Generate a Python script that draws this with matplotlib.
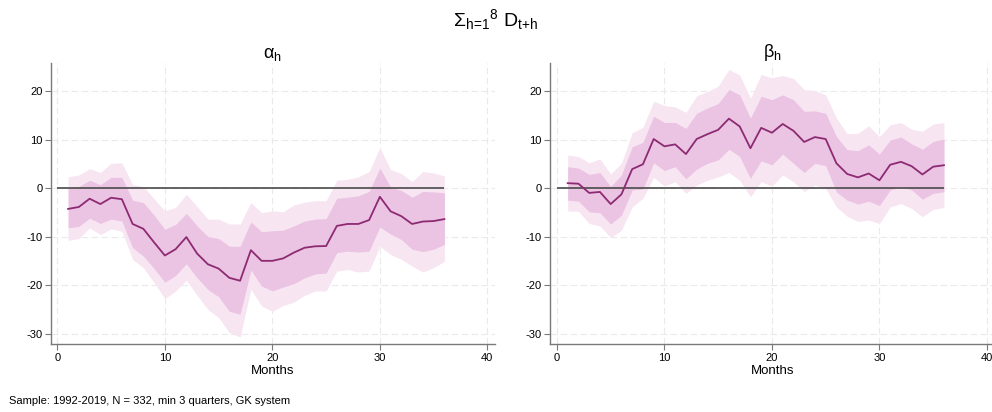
import matplotlib
matplotlib.use("Agg")
import matplotlib.pyplot as plt

plt.rcParams['font.family'] = ['Liberation Sans', 'DejaVu Sans']
plt.rcParams['mathtext.fontset'] = 'custom'
plt.rcParams['mathtext.rm'] = 'Liberation Sans'
plt.rcParams['mathtext.it'] = 'Liberation Sans'
plt.rcParams['axes.unicode_minus'] = False

# horizons (months)
months = list(range(1, 37))

# alpha_h : point estimate, inner band, outer band
alpha = [-4.3, -3.9, -2.2, -3.3, -2.0, -2.3, -7.4, -8.4, -11.2, -13.9, -12.6, -10.1,
         -13.5, -15.7, -16.6, -18.5, -19.1, -12.8, -15.0, -15.0, -14.5, -13.3, -12.3, -12.0,
         -11.95, -7.8, -7.4, -7.4, -6.6, -1.8, -4.8, -5.8, -7.4, -6.9, -6.8, -6.4]
alpha_lo68 = [-8.2, -7.9, -6.2, -7.3, -6.4, -6.8, -12.3, -14.0, -16.6, -19.4, -18.0, -15.6,
              -18.5, -20.9, -22.4, -25.4, -26.0, -16.9, -20.2, -21.2, -20.4, -19.7, -18.5, -17.7,
              -17.5, -13.3, -13.0, -13.2, -13.0, -8.0, -9.5, -10.6, -12.6, -13.1, -12.6, -11.6]
alpha_hi68 = [-0.1, 0.3, 1.6, 0.7, 2.2, 2.2, -2.5, -3.0, -5.6, -8.5, -7.5, -5.2,
              -7.8, -10.0, -10.4, -12.0, -12.0, -7.0, -9.0, -8.8, -8.7, -7.8, -6.8, -6.4,
              -6.3, -2.1, -1.9, -1.6, -0.7, 4.1, 0.2, -0.5, -1.9, -0.7, -0.8, -1.0]
alpha_lo95 = [-10.8, -10.4, -8.2, -9.6, -8.4, -8.9, -14.7, -16.4, -19.5, -22.8, -21.2, -19.0,
              -22.1, -25.0, -26.7, -29.8, -30.7, -20.9, -24.3, -25.4, -24.2, -23.5, -22.1, -21.2,
              -21.2, -17.1, -16.8, -17.3, -17.1, -12.0, -13.7, -14.7, -16.1, -17.3, -16.4, -15.1]
alpha_hi95 = [2.3, 2.7, 4.0, 3.2, 5.1, 5.2, 0.7, 0.3, -2.2, -4.7, -4.0, -1.3,
              -3.8, -6.4, -6.4, -7.4, -7.4, -3.0, -5.1, -4.7, -4.9, -3.5, -2.9, -2.6,
              -2.6, 1.6, 1.8, 2.3, 3.4, 8.3, 3.8, 3.0, 1.3, 3.4, 3.1, 2.5]

# beta_h
beta = [1.0, 0.9, -1.0, -0.8, -3.3, -1.3, 3.9, 4.9, 10.1, 8.6, 9.0, 7.0,
        10.1, 11.1, 12.0, 14.3, 12.7, 8.2, 12.4, 11.4, 13.2, 11.8, 9.5, 10.5,
        10.1, 5.1, 2.9, 2.2, 3.0, 1.6, 4.8, 5.4, 4.5, 2.8, 4.4, 4.7]
beta_lo68 = [-2.5, -2.7, -4.9, -5.1, -7.4, -5.6, -0.4, -0.2, 5.2, 3.6, 4.4, 1.9,
             3.9, 5.1, 5.8, 8.0, 6.5, 2.0, 5.6, 4.8, 7.0, 5.1, 3.2, 5.1,
             4.6, -0.8, -2.5, -3.3, -2.7, -3.6, -0.4, 0.3, -0.4, -2.3, -1.1, -0.75]
beta_hi68 = [4.4, 4.1, 2.8, 3.2, 0.3, 2.7, 8.5, 9.4, 14.8, 13.5, 13.5, 12.3,
             15.4, 16.5, 17.4, 20.3, 19.2, 14.4, 18.9, 18.2, 19.2, 18.2, 15.8, 15.9,
             15.4, 10.6, 7.9, 7.7, 8.9, 7.0, 9.9, 10.5, 9.1, 8.0, 9.6, 10.1]
beta_lo95 = [-4.7, -4.8, -7.3, -7.8, -10.2, -8.7, -3.9, -2.1, 2.2, 0.4, 1.3, -1.1,
             0.6, 1.6, 2.3, 3.2, 1.6, -1.8, 1.3, 0.4, 2.7, 1.3, -0.7, 0.6,
             -0.1, -3.9, -5.8, -6.9, -6.6, -7.3, -3.9, -3.2, -4.2, -5.9, -4.4, -4.0]
beta_hi95 = [6.8, 6.5, 5.2, 6.0, 2.9, 5.1, 11.4, 12.5, 17.9, 17.0, 16.7, 15.6,
             19.0, 19.9, 21.0, 24.4, 23.3, 18.5, 23.4, 22.7, 23.2, 22.6, 20.3, 20.1,
             19.2, 14.4, 11.2, 11.3, 12.8, 10.6, 13.0, 13.5, 12.1, 11.7, 13.2, 13.5]

line_col = '#8C2A72'
inner_col = '#EBC3E3'
outer_col = '#F7E5F2'
axis_col = '#7A7A7A'

fig = plt.figure(figsize=(9.92, 4.12), dpi=100)
ax1 = fig.add_axes([0.0511, 0.1643, 0.448, 0.682])
ax2 = fig.add_axes([0.5547, 0.1643, 0.448, 0.682])

panels = [
    (ax1, alpha, alpha_lo68, alpha_hi68, alpha_lo95, alpha_hi95, r'α$_\mathregular{h}$'),
    (ax2, beta, beta_lo68, beta_hi68, beta_lo95, beta_hi95, r'β$_\mathregular{h}$'),
]

for ax, est, lo68, hi68, lo95, hi95, ttl in panels:
    ax.fill_between(months, lo95, hi95, color=outer_col, lw=0, zorder=2)
    ax.fill_between(months, lo68, hi68, color=inner_col, lw=0, zorder=3)
    ax.hlines(0, 0, 36, color='#4A4A4A', lw=1.2, zorder=4)
    ax.plot(months, est, color=line_col, lw=1.3, zorder=5)

    ax.set_xlim(-0.62, 40.72)
    ax.set_ylim(-32.2, 25.7)
    ax.set_xticks([0, 10, 20, 30, 40])
    ax.set_yticks([-30, -20, -10, 0, 10, 20])
    ax.grid(True, color='#EAEAEA', lw=0.8, linestyle=(0, (6, 3)), zorder=0)
    ax.set_axisbelow(True)
    for s in ['top', 'right']:
        ax.spines[s].set_visible(False)
    for s in ['left', 'bottom']:
        ax.spines[s].set_color(axis_col)
        ax.spines[s].set_linewidth(1.0)
    ax.tick_params(colors=axis_col, labelcolor='black', labelsize=8, length=4, width=0.8, pad=2)
    ax.set_xlabel('Months', fontsize=9.5, labelpad=2)
    ax.set_title(ttl, fontsize=13, pad=1)

fig.text(0.5, 0.952, r'$\mathregular{\Sigma_{h\!=\!1}{}^{8}}$ D$_\mathregular{t{+}h}$',
         ha='center', va='center', fontsize=14)
fig.text(0.009, 0.027, 'Sample: 1992-2019, N = 332, min 3 quarters, GK system', ha='left', va='center', fontsize=8)

fig.savefig('out.png', dpi=100)
